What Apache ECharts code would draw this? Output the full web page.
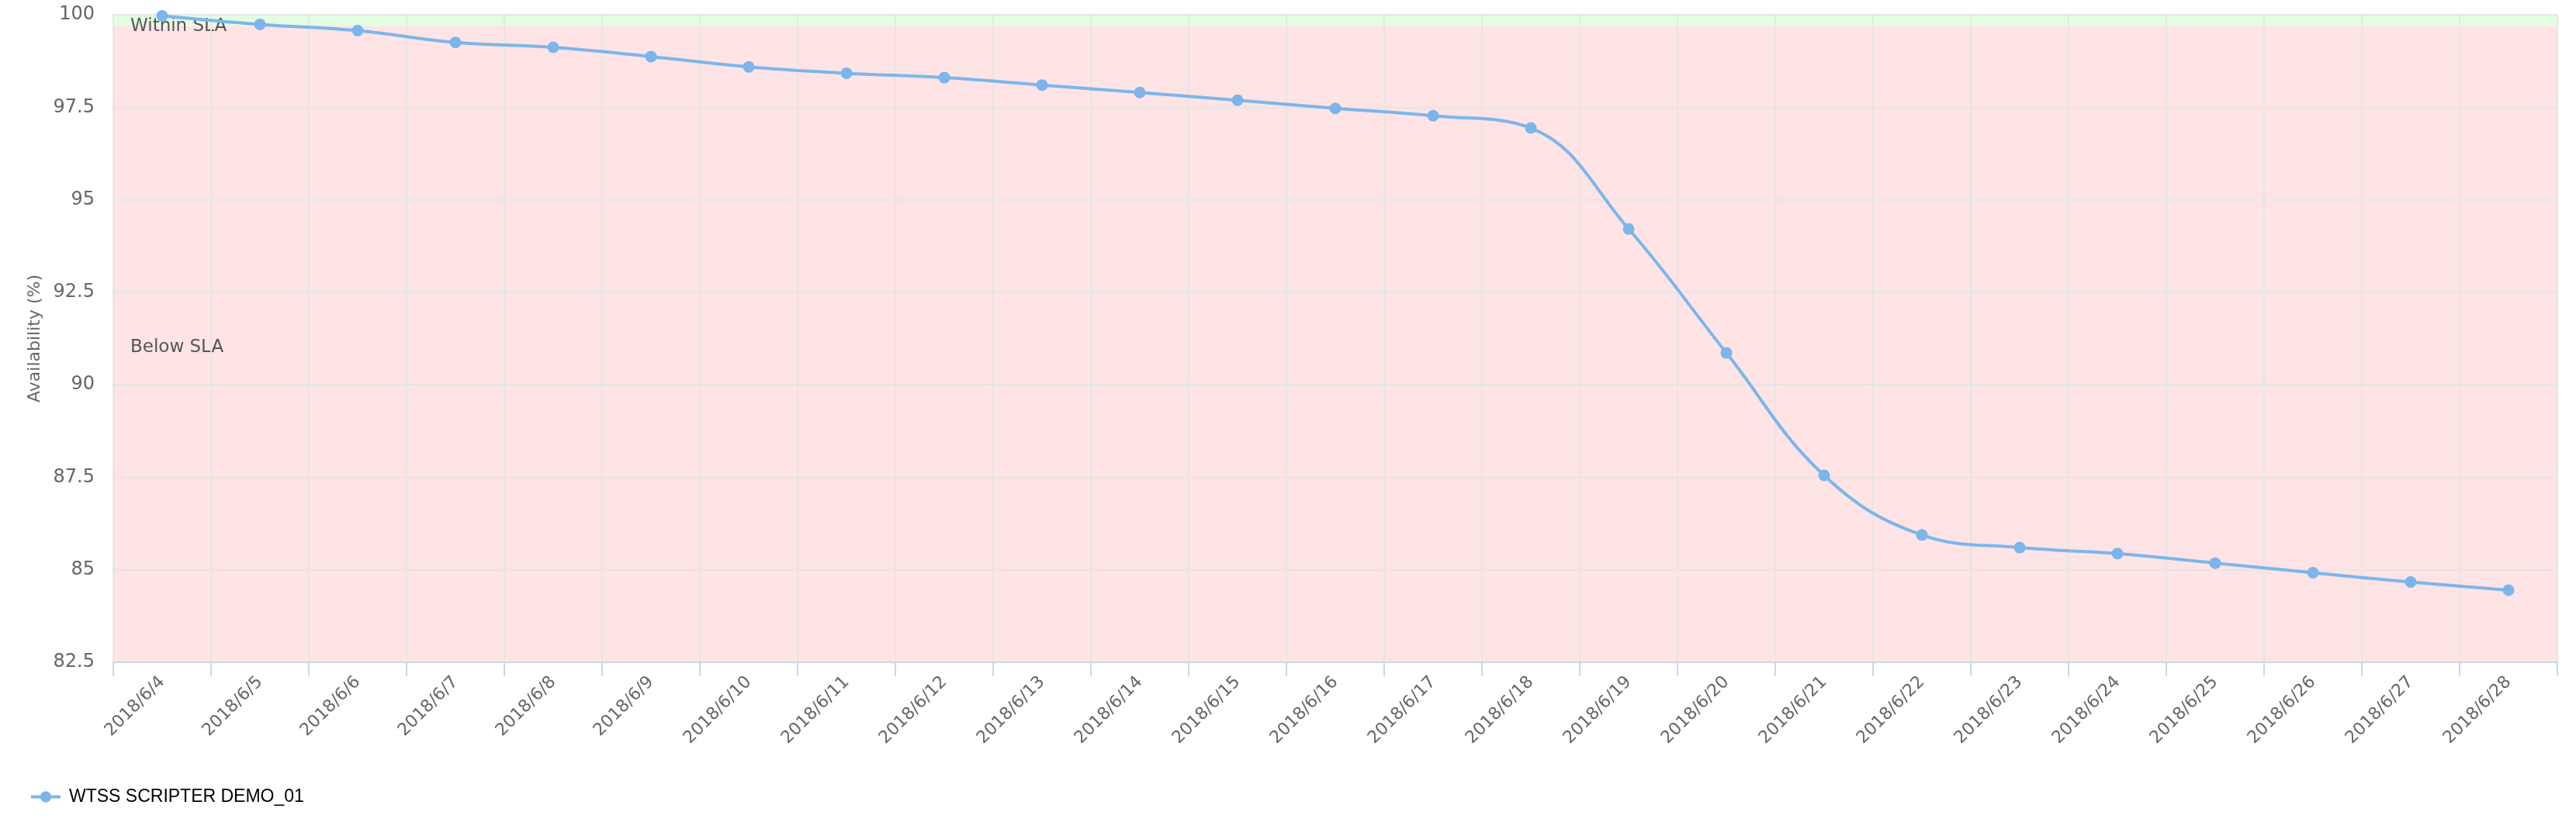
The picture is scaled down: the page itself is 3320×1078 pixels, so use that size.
<!DOCTYPE html>
<html>
<head>
<meta charset="utf-8">
<script src="https://cdn.jsdelivr.net/npm/echarts@6/dist/echarts.min.js"></script>
<style>
  html, body { margin: 0; padding: 0; background: #fff; }
  #chart { width: 3320px; height: 1078px; }
</style>
</head>
<body>
<div id="chart"></div>
<script>
// dates on the x axis
var days = ['2018/6/4', '2018/6/5', '2018/6/6', '2018/6/7', '2018/6/8', '2018/6/9',
  '2018/6/10', '2018/6/11', '2018/6/12', '2018/6/13', '2018/6/14', '2018/6/15',
  '2018/6/16', '2018/6/17', '2018/6/18', '2018/6/19', '2018/6/20', '2018/6/21',
  '2018/6/22', '2018/6/23', '2018/6/24', '2018/6/25', '2018/6/26', '2018/6/27', '2018/6/28'];

// availability in %
var availability = [99.97, 99.74, 99.57, 99.25, 99.12, 98.87, 98.59, 98.42, 98.30, 98.10,
  97.90, 97.69, 97.47, 97.27, 96.94, 94.21, 90.86, 87.55, 85.94, 85.60, 85.44, 85.18,
  84.92, 84.67, 84.45];

var seriesName = 'WTSS SCRIPTER DEMO_01';
var slaTarget = 99.7;
var yMin = 82.5, yMax = 100, yStep = 2.5;

var axisFont = 'DejaVu Sans';

var myChart = echarts.init(document.getElementById('chart'));
var option = {
  animation: false,
  grid: { left: 146, right: 24, top: 19, bottom: 224 },
  legend: {
    data: [seriesName],
    left: 33,
    top: 1011,
    itemWidth: 38,
    itemHeight: 18,
    lineStyle: { width: 4 },
    textStyle: { fontFamily: 'Liberation Sans', fontSize: 23, color: '#000', padding: [0, 0, 0, 6] }
  },
  xAxis: {
    type: 'category',
    data: days,
    z: 3,
    boundaryGap: true,
    axisLine: { lineStyle: { color: '#ccd6eb', width: 2 } },
    axisTick: { show: true, length: 18, lineStyle: { color: '#ccd6eb', width: 2 } },
    axisLabel: {
      rotate: 45, interval: 0, margin: 22,
      fontFamily: axisFont, fontSize: 22, color: '#666'
    },
    splitLine: { show: true, lineStyle: { color: '#e6e6e6', width: 2 } }
  },
  yAxis: {
    type: 'value',
    min: yMin,
    max: yMax,
    interval: yStep,
    z: 3,
    name: 'Availability (%)',
    nameLocation: 'middle',
    nameGap: 90,
    nameTextStyle: { fontFamily: axisFont, fontSize: 22, color: '#666' },
    axisLine: { show: false },
    axisTick: { show: false },
    axisLabel: { margin: 24, fontFamily: axisFont, fontSize: 24, color: '#666' },
    splitLine: { lineStyle: { color: '#e6e6e6', width: 2 } }
  },
  series: [
    {
      // holds the SLA bands, kept under the grid lines
      name: 'bands',
      type: 'line',
      data: [],
      z: 1,
      silent: true,
      markArea: {
        silent: true,
        z: 1,
        data: [
          [
            { yAxis: slaTarget, name: 'Within SLA',
              itemStyle: { color: '#e3fde3' },
              label: { position: [22, 4], fontFamily: axisFont, fontSize: 23, color: '#555' } },
            { yAxis: yMax }
          ],
          [
            { yAxis: yMin, name: 'Below SLA',
              itemStyle: { color: '#fee4e4' },
              label: { position: 'insideLeft', distance: 22, offset: [0, 4], fontFamily: axisFont, fontSize: 23, color: '#555' } },
            { yAxis: slaTarget }
          ]
        ]
      }
    },
    {
      name: seriesName,
      type: 'line',
      data: availability,
      smooth: 0.4,
      symbol: 'circle',
      symbolSize: 15,
      itemStyle: { color: '#7cb5ec' },
      lineStyle: { color: '#7cb5ec', width: 4 },
      z: 5
    }
  ]
};
myChart.setOption(option);
</script>
</body>
</html>
